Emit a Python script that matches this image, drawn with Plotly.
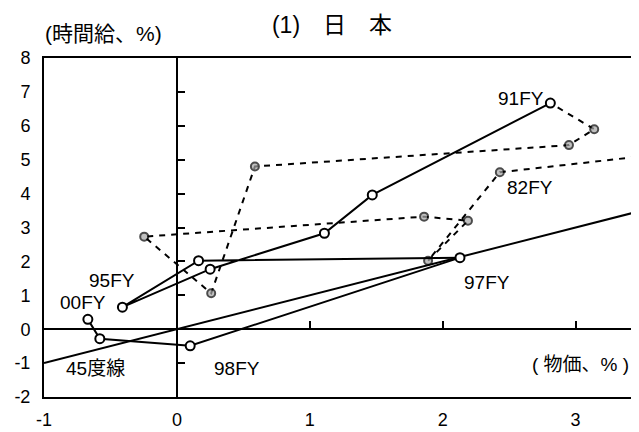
import plotly.graph_objects as go

# ---- data ----
# Dashed series: FY81 (off-chart) .. FY91 (joins the solid series)
fy_80s_x = [4.00, 2.43, 1.89, 2.19, 1.86, -0.246, 0.258, 0.587, 2.95, 3.14, 2.81]
fy_80s_y = [5.32, 4.63, 2.02, 3.20, 3.32, 2.73, 1.06, 4.80, 5.43, 5.90, 6.67]
fy_80s_show_marker = [False, True, True, True, True, True, True, True, True, True, False]

# Solid series: FY91 .. FY00
fy_90s_x = [2.81, 1.47, 1.11, 0.25, -0.41, 0.163, 2.13, 0.10, -0.58, -0.67]
fy_90s_y = [6.67, 3.96, 2.83, 1.77, 0.65, 2.02, 2.11, -0.49, -0.28, 0.29]

# 45-degree reference line
line45_x = [-1, 4]
line45_y = [-1, 4]

x_ticks = [-1, 0, 1, 2, 3]
x_tick_text = ["-1", "0", "1", "2", "3"]
y_ticks = [-2, -1, 0, 1, 2, 3, 4, 5, 6, 7, 8]
y_tick_text = ["-2", "-1", "0", "1", "2", "3", "4", "5", "6", "7", "8"]

labels = [
    ("91FY", 2.59, 6.82),
    ("82FY", 2.66, 4.17),
    ("97FY", 2.33, 1.37),
    ("95FY", -0.49, 1.45),
    ("00FY", -0.71, 0.78),
    ("45度線", -0.61, -1.17),
    ("98FY", 0.45, -1.17),
]
x_title = "( 物価、% )"
y_title = "(時間給、%)"
chart_title = "(1)　日　本"

FONT = "Liberation Sans, Arial, Noto Sans CJK JP, sans-serif"
X_RANGE = [-1, 3.477]
Y_RANGE = [-2, 8]

# the page body adds an 8px offset; the figure is sized to compensate
PAGE_OFF = 8
FIG_W = 639 - PAGE_OFF
FIG_H = 432 - PAGE_OFF

fig = go.Figure()

fig.add_trace(go.Scatter(
    x=line45_x, y=line45_y, mode="lines",
    line=dict(color="black", width=2), showlegend=False, hoverinfo="skip"))

fig.add_trace(go.Scatter(
    x=fy_80s_x, y=fy_80s_y, mode="lines+markers",
    line=dict(color="black", width=2, dash="6px,6px"),
    marker=dict(size=[8 if s else 0 for s in fy_80s_show_marker],
                color="#a6a6a6", line=dict(color="black", width=2)),
    showlegend=False))

fig.add_trace(go.Scatter(
    x=fy_90s_x, y=fy_90s_y, mode="lines+markers",
    line=dict(color="black", width=2),
    marker=dict(size=9, color="white", line=dict(color="black", width=2)),
    showlegend=False))

# helper trace for the axes through the origin
fig.add_trace(go.Scatter(x=[], y=[], xaxis="x2", yaxis="y2", showlegend=False))

zero_x_frac = (0 - X_RANGE[0]) / (X_RANGE[1] - X_RANGE[0])
zero_y_frac = (0 - Y_RANGE[0]) / (Y_RANGE[1] - Y_RANGE[0])

fig.update_layout(
    width=FIG_W, height=FIG_H,
    margin=dict(l=44 - PAGE_OFF, r=0, t=58 - PAGE_OFF, b=FIG_H - (58 - PAGE_OFF) - 339,
                autoexpand=False),
    paper_bgcolor="white", plot_bgcolor="white",
    font=dict(family=FONT, color="black", size=18),
    title=dict(text=chart_title, x=(332 - PAGE_OFF) / FIG_W,
               y=1 - (25 - PAGE_OFF) / FIG_H,
               xanchor="center", yanchor="middle",
               font=dict(size=23, family=FONT, color="black")),
    xaxis=dict(range=X_RANGE, tickvals=x_ticks, ticktext=x_tick_text, ticks="",
               showline=True, linecolor="black", linewidth=2, mirror=True,
               showgrid=False, zeroline=False, tickfont=dict(size=18),
               ticklabelstandoff=5, automargin=False),
    yaxis=dict(range=Y_RANGE, tickvals=y_ticks, ticktext=y_tick_text, ticks="",
               showline=True, linecolor="black", linewidth=2, mirror=False,
               showgrid=False, zeroline=False, tickfont=dict(size=18),
               ticklabelstandoff=8, automargin=False),
    xaxis2=dict(range=X_RANGE, overlaying="x", anchor="free", position=zero_y_frac,
                side="bottom", showline=True, linecolor="black", linewidth=2,
                ticks="inside", ticklen=7, tickwidth=2, tickcolor="black",
                tickvals=[1, 2, 3], showticklabels=False, showgrid=False,
                zeroline=False, automargin=False),
    yaxis2=dict(range=Y_RANGE, overlaying="y", anchor="free", position=zero_x_frac,
                side="left", showline=True, linecolor="black", linewidth=2,
                ticks="inside", ticklen=7, tickwidth=2, tickcolor="black",
                tickvals=[-1, 1, 2, 3, 4, 5, 6, 7], showticklabels=False,
                showgrid=False, zeroline=False, automargin=False),
)

for text, lx, ly in labels:
    fig.add_annotation(x=lx, y=ly, text=text, showarrow=False,
                       font=dict(size=19, family=FONT, color="black"),
                       xanchor="center", yanchor="middle")

fig.add_annotation(x=2.66, y=-1.05, text=x_title, showarrow=False,
                   font=dict(size=19, family=FONT, color="black"),
                   xanchor="left", yanchor="middle")

fig.add_annotation(xref="paper", yref="paper", x=-0.002, y=(397 - 34) / 339,
                   text=y_title, showarrow=False,
                   font=dict(size=21, family=FONT, color="black"),
                   xanchor="left", yanchor="middle")

fig.write_html("out.html")
